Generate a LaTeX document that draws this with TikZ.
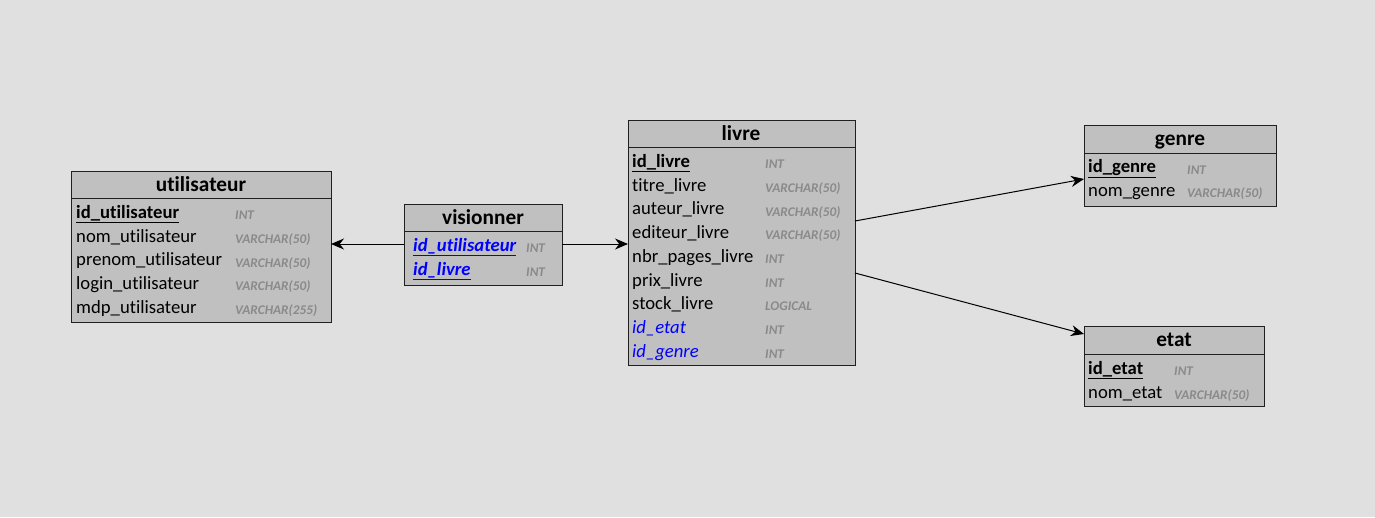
\documentclass[tikz,border=0pt]{standalone}
\usepackage{fontspec}
\setmainfont{Carlito}[Ligatures=NoCommon]
\usetikzlibrary{arrows.meta}
\definecolor{bgc}{HTML}{E0E0E0}
\definecolor{tblc}{HTML}{C0C0C0}
\definecolor{brd}{HTML}{202020}
\definecolor{typc}{HTML}{8A8A8A}
\definecolor{fkc}{HTML}{0000FF}
\tikzset{
  tbl/.style={draw=brd, fill=tblc, line width=1pt, anchor=north west, inner sep=0pt},
  sep/.style={draw=brd, line width=1pt},
  ttl/.style={font=\fontsize{21.3}{24}\selectfont\bfseries, inner sep=0pt, anchor=mid, yshift=-4pt},
  fld/.style={font=\fontsize{18.67}{22}\selectfont, inner sep=0pt, anchor=mid west, yshift=-4pt},
  fkf/.style={fld, text=fkc, font=\fontsize{18.67}{22}\selectfont\itshape},
  typ/.style={font=\fontsize{13.3}{16}\selectfont\bfseries\itshape, text=typc, inner sep=0pt, anchor=mid west, yshift=-4pt},
  rel/.style={draw=black, line width=1pt, -{Stealth[length=13pt,width=11pt]}}
}
\begin{document}
\begin{tikzpicture}[x=1pt,y=-1pt]
\fill[bgc] (0,0) rectangle (1375,517);
\useasboundingbox (0,0) rectangle (1375,517);

% utilisateur
\node[tbl, minimum width=260pt, minimum height=151pt] (U) at (71,171) {};
\draw[sep] (71,198) -- (331,198);
\node[ttl] (Ut) at (201,185) {utilisateur};
\node[fld] (U1) at (76,212) {\textbf{\underline{id\_utilisateur}}};
\node[typ] (U1t) at (235,213) {INT};
\node[fld] (U2) at (76,236) {nom\_utilisateur};
\node[typ] (U2t) at (235,237) {VARCHAR(50)};
\node[fld] (U3) at (76,259) {prenom\_utilisateur};
\node[typ] (U3t) at (235,261) {VARCHAR(50)};
\node[fld] (U4) at (76,283) {login\_utilisateur};
\node[typ] (U4t) at (235,284) {VARCHAR(50)};
\node[fld] (U5) at (76,307) {mdp\_utilisateur};
\node[typ] (U5t) at (235,308) {VARCHAR(255)};

% visionner
\node[tbl, minimum width=158pt, minimum height=81pt] (V) at (404,204) {};
\draw[sep] (404,231) -- (562,231);
\node[ttl] (Vt) at (483,218) {visionner};
\node[fkf, font=\fontsize{18.67}{22}\selectfont\bfseries\itshape] (V1) at (413,245) {\underline{id\_utilisateur}};
\node[typ] (V1t) at (526,246) {INT};
\node[fkf, font=\fontsize{18.67}{22}\selectfont\bfseries\itshape] (V2) at (413,269) {\underline{id\_livre}};
\node[typ] (V2t) at (526,270) {INT};

% livre
\node[tbl, minimum width=227pt, minimum height=245pt] (L) at (628,120) {};
\draw[sep] (628,147) -- (855,147);
\node[ttl] (Lt) at (741,134) {livre};
\node[fld] (L1) at (632,161) {\textbf{\underline{id\_livre}}};
\node[typ] (L1t) at (765,162) {INT};
\node[fld] (L2) at (632,185) {titre\_livre};
\node[typ] (L2t) at (765,186) {VARCHAR(50)};
\node[fld] (L3) at (632,208) {auteur\_livre};
\node[typ] (L3t) at (765,210) {VARCHAR(50)};
\node[fld] (L4) at (632,232) {editeur\_livre};
\node[typ] (L4t) at (765,233) {VARCHAR(50)};
\node[fld] (L5) at (632,256) {nbr\_pages\_livre};
\node[typ] (L5t) at (765,257) {INT};
\node[fld] (L6) at (632,280) {prix\_livre};
\node[typ] (L6t) at (765,281) {INT};
\node[fld] (L7) at (632,303) {stock\_livre};
\node[typ] (L7t) at (765,304) {LOGICAL};
\node[fkf] (L8) at (632,327) {id\_etat};
\node[typ] (L8t) at (765,328) {INT};
\node[fkf] (L9) at (632,351) {id\_genre};
\node[typ] (L9t) at (765,352) {INT};

% genre
\node[tbl, minimum width=192pt, minimum height=81pt] (G) at (1084,125) {};
\draw[sep] (1084,153) -- (1276,153);
\node[ttl] (Gt) at (1180,139) {genre};
\node[fld] (G1) at (1088,166) {\textbf{\underline{id\_genre}}};
\node[typ] (G1t) at (1187,168) {INT};
\node[fld] (G2) at (1088,190) {nom\_genre};
\node[typ] (G2t) at (1187,191) {VARCHAR(50)};

% etat
\node[tbl, minimum width=180pt, minimum height=80pt] (E) at (1084,326) {};
\draw[sep] (1084,354) -- (1264,354);
\node[ttl] (Et) at (1174,340) {etat};
\node[fld] (E1) at (1088,368) {\textbf{\underline{id\_etat}}};
\node[typ] (E1t) at (1174,369) {INT};
\node[fld] (E2) at (1088,392) {nom\_etat};
\node[typ] (E2t) at (1174,393) {VARCHAR(50)};

% connectors
\coordinate (Vl) at (404,244);
\coordinate (Ur) at (331,244);
\coordinate (Vr) at (562,244);
\coordinate (Ll) at (628,244);
\coordinate (La) at (855,221);
\coordinate (Gl) at (1084,179);
\coordinate (Lb) at (855,273);
\coordinate (Ea) at (1084,334);
\draw[rel] (Vl) -- (Ur);
\draw[rel] (Vr) -- (Ll);
\draw[rel] (La) -- (Gl);
\draw[rel] (Lb) -- (Ea);
\end{tikzpicture}
\end{document}
